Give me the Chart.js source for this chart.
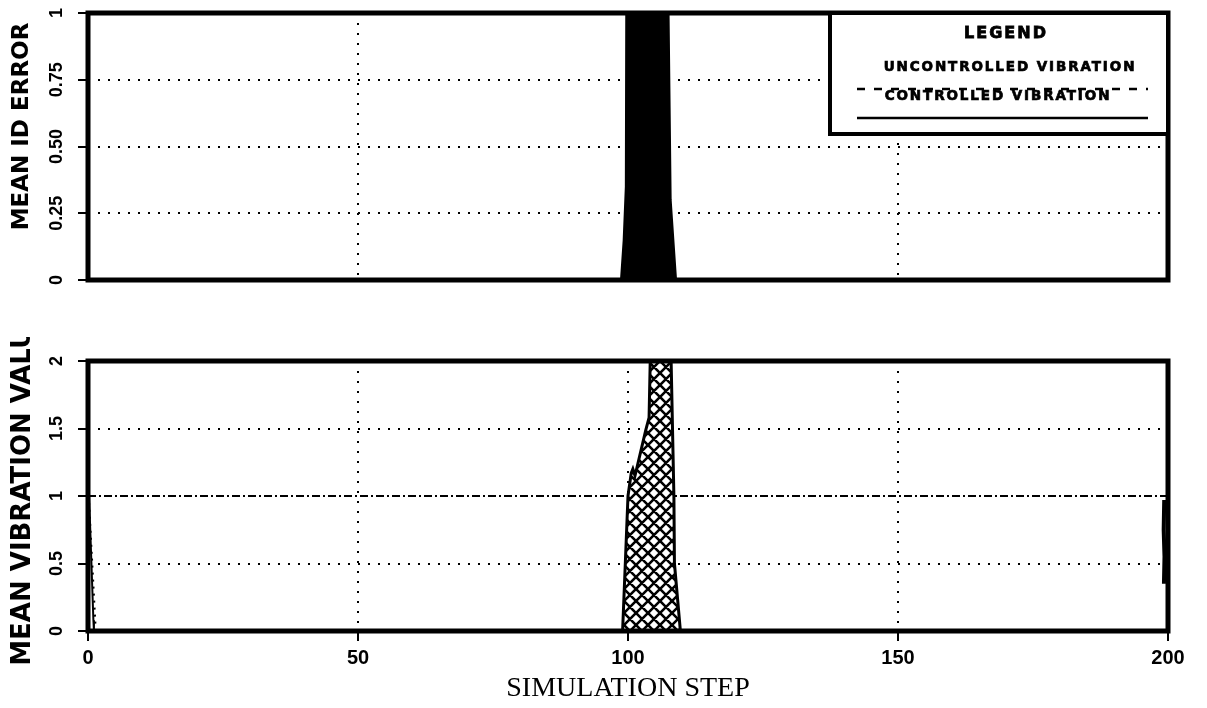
<!DOCTYPE html>
<html>
<head>
<meta charset="utf-8">
<script src="https://cdn.jsdelivr.net/npm/chart.js@4.4.1/dist/chart.umd.min.js"></script>
<style>
  html, body { margin: 0; padding: 0; background: #fff; width: 1207px; height: 708px; overflow: hidden; }
  #idChart { position: absolute; left: 0; top: 0; }
  #vibChart { position: absolute; left: 0; top: 337px; }
</style>
</head>
<body>
<canvas id="idChart" width="1207" height="300"></canvas>
<canvas id="vibChart" width="1207" height="371"></canvas>
<script>
// Simulation-step axis
const stepTicks = [0, 50, 100, 150, 200];

// Upper panel: mean identification error (runs off scale around step 100)
const idErrorTicks = [0, 0.25, 0.5, 0.75, 1];
const idErrorTickLabels = ['0', '0.25', '0.50', '0.75', '1'];
const idErrorSteps  = [98.7, 99.2, 99.6, 99.7, 107.4, 107.9, 108.5, 108.9];
const idErrorValues = [0,    0.15, 0.35, 1.2,  1.2,   0.3,   0.12,  0];

// Lower panel: mean vibration value
const vibrationTicks = [0, 0.5, 1, 1.5, 2];
const vibrationTickLabels = ['0', '0.5', '1', '1.5', '2'];
const vibrationLimit = 1;
const startSteps  = [0, 0.2, 1.0, 1.1, 2.5];
const startValues = [1.0, 1.0, 0.08, 0, 0];
const startUncontrolledSteps  = [0.2, 1.4];
const startUncontrolledValues = [0.95, 0.03];
const burstSteps  = [99.0, 99.5, 100.0, 100.6, 100.9, 101.3, 103.3, 103.9, 104.1, 104.3, 107.9, 108.0, 108.5, 108.6, 109.7];
const burstValues = [0,    0.5,  1.0,   1.17,  1.2,   1.15,  1.49,  1.58,  1.97,  2.3,   2.3,   1.97,  1.0,   0.5,   0];
const endSteps  = [199.3, 199.2, 199.35, 199.25];
const endValues = [0.97, 0.75, 0.55, 0.35];

// Legend entries: label and line dash
const legendLabels = ['UNCONTROLLED VIBRATION', 'CONTROLLED VIBRATION'];
const legendDashes = [[8, 9], []];

const pts = (xs, ys) => xs.map((x, i) => ({ x, y: ys[i] }));

// Cross-hatch fill for the vibration burst
function crossHatch(size) {
  const c = document.createElement('canvas');
  c.width = size; c.height = size;
  const g = c.getContext('2d');
  g.fillStyle = '#fff';
  g.fillRect(0, 0, size, size);
  g.strokeStyle = '#000';
  g.lineWidth = 2.6;
  g.beginPath();
  for (let k = -1; k <= 2; k++) {
    g.moveTo(k * size - 2, -2); g.lineTo(k * size + size + 2, size + 2);
    g.moveTo(k * size + 2, -2); g.lineTo(k * size - size - 2, size + 2);
  }
  g.stroke();
  return g.createPattern(c, 'repeat');
}

const tickFont = { family: "'Liberation Sans', Arial, sans-serif", weight: 'bold', size: 18 };

// Thick frame round each plot area
const framePlugin = {
  id: 'frame',
  afterDatasetsDraw(chart) {
    const { ctx, chartArea: a } = chart;
    ctx.save();
    ctx.strokeStyle = '#000';
    ctx.lineWidth = 5;
    ctx.strokeRect(a.left, a.top, a.right - a.left, a.bottom - a.top);
    ctx.restore();
  }
};

// Vertical axis title that may run past the plot height
const sideTitlePlugin = {
  id: 'sideTitle',
  afterDraw(chart, args, opts) {
    const { ctx } = chart;
    const y = chart.scales.y;
    ctx.save();
    ctx.translate(opts.x, (y.top + y.bottom) / 2 + opts.shift);
    ctx.rotate(-Math.PI / 2);
    ctx.font = `bold ${opts.size}px 'DejaVu Sans', sans-serif`;
    ctx.fillStyle = '#000';
    ctx.textAlign = 'center';
    ctx.textBaseline = 'middle';
    ctx.fillText(opts.text, 0, 0);
    ctx.restore();
  }
};

// Boxed legend in the upper-right corner of the upper panel
const boxLegendPlugin = {
  id: 'boxLegend',
  afterDraw(chart) {
    const { ctx, chartArea: a } = chart;
    const w = 338, h = 121;
    const L = a.right - w, T = a.top;
    ctx.save();
    ctx.fillStyle = '#fff';
    ctx.fillRect(L, T, w, h);
    ctx.strokeStyle = '#000';
    ctx.lineWidth = 4;
    ctx.strokeRect(L, T, w, h);
    ctx.fillStyle = '#000';
    ctx.textAlign = 'center';
    ctx.textBaseline = 'middle';
    ctx.font = "bold 16px 'DejaVu Sans', sans-serif";
    ctx.letterSpacing = '2px';
    ctx.lineWidth = 0.8;
    ctx.fillText('LEGEND', L + 176, T + 21);
    ctx.strokeText('LEGEND', L + 176, T + 21);
    ctx.font = "bold 13.5px 'DejaVu Sans', sans-serif";
    ctx.letterSpacing = '1.9px';
    const rows = [{ textX: L + 180, textY: T + 54, lineY: T + 76 }, { textX: L + 168, textY: T + 83, lineY: T + 105 }];
    legendLabels.forEach((label, i) => {
      const r = rows[i];
      ctx.lineWidth = 2.5;
      ctx.setLineDash(legendDashes[i]);
      ctx.beginPath();
      ctx.moveTo(L + 27, r.lineY);
      ctx.lineTo(L + 318, r.lineY);
      ctx.stroke();
      ctx.setLineDash([]);
      ctx.lineWidth = 0.7;
      ctx.fillText(label, r.textX, r.textY);
      ctx.strokeText(label, r.textX, r.textY);
    });
    ctx.restore();
  }
};

function stepScale(showLabels) {
  return {
    type: 'linear', min: 0, max: 200,
    afterBuildTicks: s => { s.ticks = stepTicks.map(v => ({ value: v })); },
    afterFit: s => { s.height = showLabels ? 77 : 20; s.paddingLeft = 0; s.paddingRight = 0; },
    border: { display: false, dash: [2, 8] },
    grid: { color: '#000', lineWidth: 2, drawTicks: showLabels, tickLength: 10, tickWidth: 2, tickColor: '#000', tickBorderDash: [] },
    ticks: { display: showLabels, color: '#000', font: { ...tickFont, size: 20 }, padding: 5, maxRotation: 0, minRotation: 0 },
    title: { display: showLabels, text: 'SIMULATION STEP', color: '#000', font: { family: "'Liberation Serif', 'Times New Roman', serif", size: 28 }, padding: { top: 0, bottom: 3 } }
  };
}

function valueScale(tickValues, tickLabels, max, pad, dash) {
  return {
    type: 'linear', min: 0, max,
    afterBuildTicks: s => { s.ticks = tickValues.map(v => ({ value: v })); },
    afterFit: s => { s.width = 88; s.paddingTop = 0; s.paddingBottom = 0; },
    border: { display: false, dash },
    grid: { color: '#000', lineWidth: 2, tickLength: 10, tickWidth: 2, tickColor: '#000', tickBorderDash: [] },
    ticks: { color: '#000', font: tickFont, minRotation: 90, maxRotation: 90, crossAlign: 'center', padding: pad, callback: (v, i) => tickLabels[i] }
  };
}

new Chart(document.getElementById('idChart'), {
  type: 'line',
  plugins: [framePlugin, sideTitlePlugin, boxLegendPlugin],
  data: {
    datasets: [{
      label: 'Mean ID error',
      data: pts(idErrorSteps, idErrorValues),
      borderColor: '#000', backgroundColor: '#000', borderWidth: 2,
      fill: 'origin', pointRadius: 0, tension: 0
    }]
  },
  options: {
    responsive: false, animation: false,
    layout: { padding: { left: 0, right: 39, top: 13, bottom: 0 } },
    scales: {
      x: stepScale(false),
      y: valueScale(idErrorTicks, idErrorTickLabels, 1, 3.5, [2, 8])
    },
    plugins: {
      legend: { display: false }, tooltip: { enabled: false },
      sideTitle: { text: 'MEAN ID ERROR', size: 23, x: 22, shift: -20 }
    }
  }
});

new Chart(document.getElementById('vibChart'), {
  type: 'line',
  plugins: [framePlugin, sideTitlePlugin],
  data: {
    datasets: [
      {
        label: 'Start transient',
        data: pts(startSteps, startValues),
        borderColor: '#000', borderWidth: 2, fill: false, pointRadius: 0, tension: 0
      },
      {
        label: 'Start transient (uncontrolled)',
        data: pts(startUncontrolledSteps, startUncontrolledValues),
        borderColor: '#000', borderWidth: 2, borderDash: [2, 5], fill: false, pointRadius: 0, tension: 0
      },
      {
        label: 'Disturbance burst',
        data: pts(burstSteps, burstValues),
        borderColor: '#000', borderWidth: 3, backgroundColor: crossHatch(12),
        fill: 'origin', pointRadius: 0, tension: 0
      },
      {
        label: 'End',
        data: pts(endSteps, endValues),
        borderColor: '#000', borderWidth: 4, fill: false, pointRadius: 0, tension: 0
      }
    ]
  },
  options: {
    responsive: false, animation: false,
    layout: { padding: { left: 0, right: 39, top: 24, bottom: 0 } },
    scales: {
      x: stepScale(true),
      y: valueScale(vibrationTicks, vibrationTickLabels, 2, 8.5,
        ctx => (ctx.tick && ctx.tick.value === vibrationLimit) ? [8, 3, 2, 3] : [2, 8])
    },
    plugins: {
      legend: { display: false }, tooltip: { enabled: false },
      sideTitle: { text: 'MEAN VIBRATION VALUE', size: 26, x: 23, shift: -8 }
    }
  }
});
</script>
</body>
</html>
